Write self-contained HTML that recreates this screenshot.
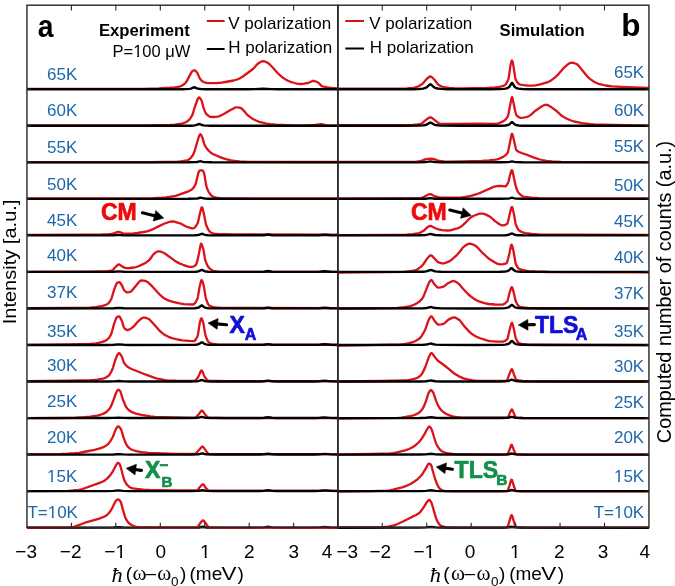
<!DOCTYPE html>
<html><head><meta charset="utf-8"><style>
html,body{margin:0;padding:0;background:#fff;}
body{width:675px;height:586px;overflow:hidden;position:relative;font-family:"Liberation Sans",sans-serif;}
svg{position:absolute;left:0;top:0;}

</style></head><body>
<svg width="675" height="586" viewBox="0 0 675 586">
<rect width="675" height="586" fill="#fff"/>
<path d="M27.0 88.8L143.5 88.8L159.0 88.3L170.0 87.7L174.5 87.3L178.0 86.8L180.5 86.3L182.0 85.6L184.0 84.2L185.5 82.8L186.5 81.6L191.0 73.1L192.0 71.5L193.0 70.8L194.0 70.4L194.5 70.3L195.0 70.4L195.5 70.8L197.0 72.5L197.5 73.3L199.5 77.9L200.0 78.7L202.0 81.0L203.5 82.0L206.5 82.8L209.0 83.1L217.0 83.0L221.5 82.7L225.5 82.0L233.5 80.5L237.0 79.5L239.5 78.5L242.5 76.7L252.0 69.8L253.5 68.4L256.5 65.0L258.0 63.6L261.0 61.8L262.0 61.4L263.0 61.2L264.0 61.3L265.5 61.7L267.5 62.7L268.5 63.3L270.0 64.7L272.5 67.3L277.5 73.0L281.0 76.2L283.0 77.8L285.5 79.4L288.0 80.8L290.5 81.8L294.5 83.0L297.0 83.6L299.0 83.9L301.0 84.0L304.0 83.7L308.0 83.0L312.0 81.2L313.0 81.0L314.0 80.9L316.0 81.5L318.5 82.7L321.5 85.9L322.5 86.4L325.0 87.0L327.5 87.4L331.5 87.9L338.0 88.4" fill="none" stroke="#dc121a" stroke-width="2.3" stroke-linejoin="round"/>
<path d="M338.0 88.7L401.0 88.7L407.0 88.4L413.0 87.8L415.5 87.4L417.0 86.9L419.0 86.0L421.0 84.8L423.0 83.3L426.0 79.7L428.0 77.8L429.5 76.7L430.5 76.5L431.0 76.6L432.0 77.3L434.5 79.8L437.5 83.9L438.5 84.8L441.5 86.4L443.0 86.9L444.5 87.2L449.0 87.8L453.5 88.2L457.5 88.3L462.5 88.3L487.0 87.8L495.0 87.3L499.5 86.8L502.5 86.1L504.5 85.4L505.5 84.5L506.0 83.9L507.5 81.4L508.5 78.9L509.0 76.1L510.5 65.2L511.5 61.2L512.0 60.4L512.5 61.4L513.5 66.3L515.0 76.5L515.5 79.0L516.5 81.1L518.0 83.2L519.0 84.1L519.5 84.4L520.5 84.7L524.0 85.2L527.5 85.5L531.5 85.7L534.0 85.6L536.5 85.2L540.0 84.4L545.5 82.9L548.5 81.8L550.0 81.1L551.5 80.2L555.0 77.4L558.5 74.1L563.5 68.2L567.5 64.6L569.5 63.2L570.5 62.8L571.5 62.6L573.0 62.8L574.5 63.2L576.5 64.0L577.5 64.6L579.0 66.1L582.0 70.0L587.0 76.0L589.0 78.1L591.0 79.6L594.0 81.7L596.5 83.0L598.5 83.8L602.0 84.7L605.5 85.5L609.0 86.0L612.0 86.4L620.5 86.9L649.0 88.0" fill="none" stroke="#dc121a" stroke-width="2.3" stroke-linejoin="round"/>
<path d="M27.0 125.5L147.5 125.5L170.5 124.9L175.0 124.6L179.5 124.0L183.0 123.3L186.0 122.1L187.5 121.2L188.5 120.4L189.5 119.4L190.5 118.1L192.0 115.7L192.5 114.6L195.0 106.5L197.5 99.5L198.0 98.4L198.5 97.7L199.0 97.4L199.5 97.6L200.0 98.0L201.5 100.4L202.0 101.8L203.5 107.9L205.0 111.7L206.0 113.5L207.0 114.7L208.5 115.9L209.5 116.6L210.5 116.9L212.5 117.0L216.0 116.8L217.5 116.6L219.0 116.3L221.0 115.4L225.5 113.1L230.5 110.1L234.5 107.9L236.0 107.3L237.5 107.3L240.5 107.9L241.5 108.4L244.0 110.8L246.5 114.0L247.5 115.0L250.5 117.4L253.0 119.0L256.0 120.5L259.0 121.8L262.5 122.7L266.5 123.6L270.0 124.2L276.0 124.7L293.0 125.4L301.5 125.5L307.0 125.5L315.0 124.9L319.0 124.4L321.0 124.2L322.5 124.4L326.5 125.3L338.0 125.6" fill="none" stroke="#dc121a" stroke-width="2.3" stroke-linejoin="round"/>
<path d="M338.0 125.2L410.0 125.2L413.5 125.0L417.5 124.5L421.0 123.8L422.5 122.9L425.0 120.7L428.5 118.0L429.5 117.5L430.5 117.3L431.5 117.6L432.5 118.3L438.5 123.1L439.5 123.6L440.0 123.7L457.5 123.9L479.5 123.6L493.5 123.9L496.5 123.8L499.5 123.0L503.5 121.1L504.5 120.4L505.5 119.5L506.5 118.3L507.5 116.9L508.0 115.7L508.5 113.8L511.5 98.2L512.0 97.1L512.5 98.1L515.0 110.3L516.0 114.2L516.5 115.2L517.5 116.2L519.0 117.3L520.0 117.8L521.5 117.9L523.5 117.7L526.5 117.0L528.5 116.4L530.5 115.1L535.5 110.7L541.5 106.5L544.0 105.2L545.5 104.8L546.5 104.8L547.5 105.0L548.5 105.4L551.0 106.9L555.5 110.2L561.0 115.2L563.5 116.9L567.5 119.0L571.0 120.5L574.0 121.5L577.5 122.2L582.0 123.1L586.5 123.7L590.5 124.2L594.5 124.5L612.5 125.0L649.0 125.7" fill="none" stroke="#dc121a" stroke-width="2.3" stroke-linejoin="round"/>
<path d="M27.0 162.1L150.0 162.1L164.0 161.9L177.0 161.6L180.5 161.4L183.5 161.0L187.0 160.3L188.5 159.7L189.5 159.0L190.5 158.1L192.5 155.7L193.5 153.9L194.5 151.1L196.5 144.7L198.5 137.7L199.5 135.2L200.0 134.3L200.5 134.2L201.0 134.7L201.5 135.6L202.5 137.9L204.0 143.4L205.0 145.7L206.0 147.4L207.5 149.4L209.0 151.0L210.5 152.4L212.0 153.5L213.5 154.3L220.0 157.1L225.0 158.8L231.0 160.4L235.0 161.0L239.5 161.5L248.5 161.9L338.0 162.0" fill="none" stroke="#dc121a" stroke-width="2.3" stroke-linejoin="round"/>
<path d="M338.0 161.8L415.5 161.8L418.0 161.5L422.0 160.6L426.0 159.2L428.5 158.8L430.5 158.7L432.5 158.9L435.0 159.4L438.0 160.7L439.0 161.0L444.0 161.4L448.5 161.6L463.5 161.4L481.5 160.9L489.0 160.5L495.5 159.7L497.0 159.4L499.0 158.8L501.0 157.9L503.5 156.7L505.5 155.2L506.5 154.2L507.5 152.9L508.0 151.8L508.5 149.8L511.5 134.7L512.0 133.7L512.5 134.5L513.0 136.3L516.0 149.2L516.5 150.2L517.0 150.7L518.5 151.7L521.5 153.0L528.0 155.2L534.0 157.6L540.0 159.5L544.0 160.5L546.5 160.9L552.0 161.5L561.0 161.9L649.0 162.2" fill="none" stroke="#dc121a" stroke-width="2.3" stroke-linejoin="round"/>
<path d="M27.0 198.4L143.5 198.4L152.5 198.2L162.5 197.7L166.0 197.4L169.5 196.9L175.5 195.8L180.0 194.4L189.0 191.1L191.0 190.0L192.5 188.9L194.0 187.1L195.5 184.4L196.0 183.0L198.0 174.2L199.0 171.2L199.5 170.7L201.0 170.3L202.0 170.4L203.0 170.8L203.5 171.6L204.5 175.0L206.0 184.6L207.0 188.2L207.5 189.6L208.5 191.6L210.5 194.7L212.0 196.1L214.0 197.0L216.5 197.6L220.0 198.1L235.5 198.4L338.0 198.4" fill="none" stroke="#dc121a" stroke-width="2.3" stroke-linejoin="round"/>
<path d="M338.0 198.4L420.0 198.4L421.0 198.3L422.0 197.9L425.0 196.2L428.5 194.5L429.5 194.2L430.5 194.1L431.5 194.4L434.5 196.2L438.0 197.2L441.0 197.7L458.0 197.7L461.5 197.5L465.5 196.9L471.0 195.9L476.5 194.2L481.5 192.3L492.5 187.4L494.5 186.6L497.0 186.2L499.5 186.0L501.0 186.0L504.5 186.4L505.5 186.3L506.0 186.0L506.5 185.5L508.0 182.9L508.5 181.6L510.0 175.3L511.0 171.9L511.5 170.5L512.0 170.1L512.5 171.3L515.5 185.2L516.5 188.5L517.5 191.0L518.5 192.8L520.5 194.8L522.5 196.2L523.5 196.7L524.5 197.0L531.5 197.7L539.0 198.1L575.5 198.3L649.0 198.4" fill="none" stroke="#dc121a" stroke-width="2.3" stroke-linejoin="round"/>
<path d="M27.0 234.8L85.5 234.7L100.0 234.6L108.0 234.2L111.5 233.9L113.5 233.5L117.0 232.1L118.5 231.8L119.5 232.0L122.5 233.1L123.5 233.4L129.0 233.7L133.5 233.5L137.5 233.0L143.5 232.0L147.0 231.3L150.0 230.4L152.5 229.4L157.0 227.1L163.5 224.0L169.0 222.0L170.5 221.6L172.0 221.4L173.5 221.5L175.0 221.8L180.0 223.3L181.5 224.0L186.0 226.5L189.5 227.7L192.0 228.3L193.5 228.3L194.5 227.8L195.5 226.7L197.5 223.7L198.0 222.2L199.5 215.3L201.0 209.2L201.5 207.7L202.0 207.2L202.5 208.3L204.0 214.5L206.0 224.5L207.5 228.1L209.0 230.7L210.0 231.9L210.5 232.3L212.0 233.0L214.5 233.8L217.0 234.0L233.0 234.3L338.0 234.7" fill="none" stroke="#dc121a" stroke-width="2.3" stroke-linejoin="round"/>
<path d="M338.0 235.1L398.0 234.8L406.5 234.6L412.5 234.2L417.5 233.5L419.0 233.1L421.0 232.3L424.0 230.6L426.5 228.0L427.5 227.2L429.5 226.1L430.5 225.9L431.5 226.2L433.5 227.3L436.0 228.5L438.5 229.4L442.0 230.1L444.5 230.4L447.5 230.5L450.5 230.3L453.5 229.4L457.5 228.4L460.0 227.3L462.0 225.8L465.5 222.6L469.5 218.5L471.5 216.9L474.5 215.5L477.0 214.5L479.0 213.9L481.0 213.6L482.5 213.6L484.0 213.9L486.0 214.6L489.0 216.1L491.0 217.5L495.0 221.1L499.5 224.3L501.5 225.2L502.5 225.4L503.5 225.3L505.0 224.9L506.5 224.2L507.0 223.9L507.5 223.1L508.0 221.5L511.0 208.7L511.5 207.2L512.0 207.0L512.5 208.1L514.0 214.2L515.5 223.2L516.0 225.0L517.5 228.3L518.5 229.8L519.0 230.4L520.0 231.1L522.5 232.3L525.5 233.1L532.0 234.0L538.5 234.3L575.5 234.6L649.0 234.8" fill="none" stroke="#dc121a" stroke-width="2.3" stroke-linejoin="round"/>
<path d="M27.0 271.9L91.0 271.6L100.5 271.4L107.5 271.1L111.0 270.7L112.0 270.5L112.5 270.3L113.5 269.3L115.0 267.5L117.5 265.1L118.5 264.5L119.0 264.4L120.0 264.8L122.0 266.4L124.5 267.6L126.0 268.1L129.5 268.0L134.5 267.5L136.5 267.0L139.0 266.0L143.5 263.9L146.5 262.2L148.5 260.7L149.5 259.8L150.5 258.5L153.0 254.8L154.0 253.7L155.5 252.6L157.0 251.8L158.0 251.4L159.0 251.3L161.0 251.7L163.5 252.7L164.5 253.2L175.0 260.9L177.0 262.1L180.0 263.6L183.0 264.8L187.5 266.3L190.0 266.8L192.0 266.9L193.5 266.5L195.0 265.6L196.0 264.8L196.5 263.8L197.5 260.1L199.0 253.4L200.5 245.1L201.0 243.7L201.5 244.0L202.0 245.0L203.0 248.3L203.5 250.1L205.0 258.7L205.5 260.9L207.0 264.6L208.0 266.5L209.5 268.3L211.5 269.9L212.5 270.5L213.5 270.8L218.5 271.6L223.5 271.9L338.0 271.9" fill="none" stroke="#dc121a" stroke-width="2.3" stroke-linejoin="round"/>
<path d="M338.0 272.6L382.5 272.2L404.5 271.9L409.0 271.5L414.0 270.7L416.0 270.1L417.5 269.3L419.5 267.9L422.0 265.8L423.5 264.0L427.0 258.7L429.5 255.9L430.5 255.3L431.0 255.3L432.0 255.9L437.5 261.8L438.5 262.4L439.5 262.7L442.0 263.3L444.0 263.3L446.0 262.7L449.0 261.4L450.5 260.5L452.0 259.4L456.5 255.4L460.0 251.5L463.0 247.4L465.0 245.8L467.0 244.6L468.5 243.9L470.0 243.7L471.0 243.8L472.5 244.3L475.5 245.8L476.5 246.5L478.0 247.9L482.5 252.9L487.5 257.5L490.5 259.8L495.0 262.5L497.0 263.6L499.0 264.2L500.5 264.4L503.0 264.2L505.5 263.7L506.5 263.3L507.0 262.4L508.0 259.1L509.5 253.0L511.0 245.5L511.5 244.6L512.0 245.3L512.5 246.9L513.5 251.2L515.5 262.8L516.0 264.3L516.5 265.4L518.0 267.8L519.0 268.7L520.0 269.2L522.0 269.9L525.5 270.7L529.0 271.1L535.0 271.5L548.5 272.0L649.0 272.3" fill="none" stroke="#dc121a" stroke-width="2.3" stroke-linejoin="round"/>
<path d="M27.0 308.1L69.0 307.9L90.0 307.6L95.5 307.1L102.5 305.9L105.0 305.2L107.5 304.0L108.5 303.2L110.0 301.3L111.5 298.5L113.5 291.7L115.5 285.9L116.5 283.7L117.0 283.1L117.5 282.8L119.0 282.1L119.5 282.1L120.0 282.5L122.0 285.5L123.5 289.0L124.0 290.0L124.5 290.6L125.5 291.5L126.5 292.2L127.0 292.4L128.0 292.4L129.0 292.1L130.5 291.6L131.5 291.1L132.0 290.6L139.0 282.0L140.5 280.7L141.5 280.4L143.5 280.6L146.0 281.2L147.0 281.7L148.0 282.4L152.5 286.7L158.0 292.8L160.0 294.8L163.5 297.9L164.5 298.5L166.5 299.6L169.0 300.6L172.0 301.6L179.5 303.4L184.0 304.1L189.0 304.4L193.0 304.5L193.5 304.4L194.0 304.1L195.0 303.1L196.0 301.6L197.5 298.4L198.0 296.3L199.5 287.2L201.0 281.0L201.5 280.1L202.0 280.4L202.5 281.5L203.5 284.9L204.0 287.1L205.5 296.5L206.0 298.7L207.5 302.9L208.5 304.8L209.0 305.4L211.0 306.3L213.5 307.1L216.0 307.4L220.0 307.6L236.0 308.0L338.0 308.1" fill="none" stroke="#dc121a" stroke-width="2.3" stroke-linejoin="round"/>
<path d="M338.0 308.5L377.5 308.1L397.5 307.8L401.0 307.5L404.5 307.1L409.0 306.4L411.0 305.9L414.0 304.7L417.5 302.9L420.0 301.0L422.0 298.9L423.0 297.4L424.0 295.2L429.0 282.6L429.5 281.7L430.5 280.6L431.0 280.2L431.5 280.1L432.0 280.5L432.5 281.2L434.0 283.8L436.0 286.0L437.5 287.3L438.5 287.6L440.5 287.4L443.5 286.6L445.0 285.7L448.0 283.2L451.5 281.5L452.5 281.1L453.5 281.0L455.0 281.4L456.5 282.2L459.0 284.1L463.0 288.7L468.5 294.5L470.5 296.2L473.5 298.4L476.5 300.2L479.0 301.4L484.5 303.2L488.5 304.0L495.0 304.5L502.0 304.6L503.5 304.3L505.0 303.4L507.0 301.6L507.5 300.7L508.0 299.1L509.5 292.9L510.5 289.8L511.0 288.3L511.5 287.3L512.0 287.2L512.5 288.3L513.5 291.6L515.5 300.5L516.0 301.8L517.0 303.8L518.0 305.4L519.0 306.4L520.0 306.8L523.5 307.5L528.0 308.0L533.0 308.1L649.0 308.5" fill="none" stroke="#dc121a" stroke-width="2.3" stroke-linejoin="round"/>
<path d="M27.0 344.8L69.0 344.4L90.0 343.8L96.0 343.3L99.5 342.6L102.5 341.9L105.0 340.9L107.0 339.7L108.5 338.4L109.5 337.1L110.5 335.4L111.5 333.2L114.0 324.1L116.0 318.6L116.5 317.6L117.0 317.1L118.0 316.6L119.0 316.4L119.5 316.6L120.0 317.2L121.5 320.1L122.0 321.3L123.5 326.4L124.0 327.7L124.5 328.4L125.0 328.8L126.5 329.8L127.5 330.0L128.5 329.8L129.5 329.4L131.0 328.6L133.5 326.7L137.5 321.9L141.0 318.8L142.0 318.1L143.0 317.7L144.0 317.6L145.0 317.7L147.5 318.5L149.0 319.2L149.5 319.5L152.5 322.7L159.0 330.1L162.0 332.9L164.5 334.7L168.5 336.8L172.0 338.1L177.5 339.5L182.5 340.4L189.0 340.9L193.5 341.1L194.0 341.1L194.5 340.9L195.5 339.9L197.0 337.3L197.5 336.2L198.0 334.6L199.5 324.3L200.5 320.1L201.0 318.7L201.5 318.3L202.0 319.0L202.5 320.3L203.5 323.9L205.0 333.0L205.5 335.4L207.0 339.4L208.0 341.3L209.0 342.5L211.0 343.3L213.5 344.0L217.0 344.3L234.5 344.6L338.0 344.7" fill="none" stroke="#dc121a" stroke-width="2.3" stroke-linejoin="round"/>
<path d="M338.0 345.6L379.5 344.9L399.5 344.3L403.0 344.1L405.5 343.8L409.0 343.1L412.5 342.2L415.5 341.0L418.0 339.6L420.0 338.0L421.5 336.2L423.5 332.9L425.5 329.0L428.5 320.2L429.5 318.4L430.5 316.9L431.0 316.5L431.5 316.4L432.0 316.7L432.5 317.4L434.0 320.0L436.5 323.2L437.5 324.2L438.0 324.5L438.5 324.6L441.0 324.4L443.5 323.9L445.0 322.9L447.5 320.4L448.5 319.6L452.0 317.9L453.0 317.6L454.0 317.4L455.0 317.5L456.0 317.9L459.0 319.7L460.0 320.6L464.5 326.5L469.0 331.4L470.5 332.9L472.0 334.1L475.5 336.2L479.5 338.0L486.0 340.2L488.5 340.8L490.5 341.1L497.0 341.6L502.5 341.7L503.5 341.5L504.5 341.1L505.5 340.6L507.0 339.5L507.5 338.6L508.0 336.9L509.5 330.2L511.0 324.6L511.5 323.2L512.0 322.8L512.5 323.7L513.0 325.5L514.0 329.6L515.5 337.3L516.0 338.8L517.5 341.6L518.5 342.8L519.5 343.4L522.0 343.9L527.5 344.5L535.5 344.7L572.5 344.9L649.0 345.1" fill="none" stroke="#dc121a" stroke-width="2.3" stroke-linejoin="round"/>
<path d="M27.0 381.1L69.0 380.7L90.0 380.2L94.0 380.0L97.5 379.6L101.5 378.9L104.0 378.3L106.0 377.5L107.5 376.5L109.0 375.3L110.0 374.0L111.5 371.2L113.0 367.6L115.0 360.8L117.0 355.8L118.0 353.9L118.5 353.3L119.0 353.1L119.5 353.3L120.0 353.8L121.5 356.1L122.0 357.1L123.5 361.5L124.0 362.8L124.5 363.6L126.5 365.8L128.0 367.0L129.5 367.9L131.5 369.0L133.5 369.8L146.0 374.7L154.0 377.6L156.5 378.4L159.0 379.0L165.0 380.1L167.5 380.3L176.0 380.6L194.5 380.8L195.0 380.6L196.0 379.8L198.0 377.2L199.0 375.3L200.5 371.7L201.0 370.9L201.5 370.5L202.0 370.7L202.5 371.5L204.0 375.4L204.5 376.6L205.0 377.3L207.0 379.9L208.0 380.7L208.5 380.8L217.0 381.0L227.0 381.1L338.0 381.1" fill="none" stroke="#dc121a" stroke-width="2.3" stroke-linejoin="round"/>
<path d="M338.0 381.5L382.5 381.0L404.5 380.5L407.0 380.4L409.5 380.0L415.0 378.7L417.0 378.0L419.0 376.8L421.0 375.1L422.0 373.8L423.5 370.9L425.5 366.5L428.5 357.8L430.5 353.8L431.0 353.3L431.5 353.1L432.0 353.4L432.5 353.9L436.0 358.6L437.5 360.3L439.0 361.5L444.5 365.5L449.0 369.1L453.0 372.5L455.0 374.0L458.5 376.1L463.5 378.4L467.5 379.4L473.0 380.3L476.0 380.6L479.0 380.8L506.5 380.7L507.0 380.2L507.5 379.2L511.0 370.1L511.5 369.3L512.0 369.2L512.5 370.1L514.0 374.6L515.5 378.4L516.0 379.4L516.5 380.0L519.0 380.5L522.5 380.9L528.0 381.2L538.0 381.3L649.0 381.5" fill="none" stroke="#dc121a" stroke-width="2.3" stroke-linejoin="round"/>
<path d="M27.0 418.2L61.5 418.0L76.0 417.6L84.5 417.1L90.5 416.6L97.0 415.6L100.5 414.8L103.5 413.6L105.5 412.6L107.5 411.0L109.5 408.8L110.5 407.2L111.5 405.0L113.5 400.0L116.0 393.0L117.5 390.2L118.0 389.7L118.5 389.7L119.0 390.0L120.0 390.9L120.5 391.7L123.0 399.8L125.5 405.9L126.5 407.6L127.5 408.8L129.0 410.2L130.5 411.3L132.0 412.2L136.0 413.6L141.5 414.9L150.5 416.4L155.0 416.9L163.0 417.2L181.5 417.7L194.5 417.8L195.5 417.5L196.5 416.7L199.0 414.0L201.0 411.2L201.5 410.7L202.0 410.6L202.5 410.9L203.0 411.5L204.5 413.7L207.0 416.7L208.0 417.5L208.5 417.6L217.0 417.9L227.0 418.1L338.0 418.1" fill="none" stroke="#dc121a" stroke-width="2.3" stroke-linejoin="round"/>
<path d="M338.0 418.6L377.5 418.2L397.5 417.8L401.0 417.6L405.5 417.0L410.0 416.2L413.0 415.5L416.5 414.1L418.5 413.0L420.5 411.3L422.5 409.0L424.0 406.1L426.0 401.0L428.5 393.2L430.0 390.7L430.5 390.2L431.0 390.1L431.5 390.4L432.0 390.9L433.0 392.2L434.0 394.5L436.0 400.6L438.0 405.2L439.5 408.0L441.5 410.4L443.0 411.7L444.5 412.8L446.0 413.7L448.5 414.9L450.5 415.7L452.5 416.3L458.0 417.4L460.5 417.5L477.5 417.7L507.5 417.6L508.0 417.5L508.5 416.7L509.5 413.9L511.0 410.3L511.5 409.6L512.0 409.5L512.5 410.1L515.5 417.3L516.0 417.6L518.0 417.8L523.0 418.0L529.5 418.1L649.0 418.2" fill="none" stroke="#dc121a" stroke-width="2.3" stroke-linejoin="round"/>
<path d="M27.0 454.1L61.0 453.9L67.5 453.7L75.0 453.2L79.0 452.8L83.5 452.0L94.5 449.8L99.0 448.7L102.0 447.7L104.5 446.6L107.0 445.0L108.5 443.7L110.5 440.9L112.5 437.5L113.5 435.3L115.0 431.2L116.0 428.9L117.0 427.4L117.5 426.8L118.0 426.4L118.5 426.4L119.5 427.2L121.0 429.2L121.5 430.5L123.5 437.4L125.0 441.4L126.5 444.7L127.0 445.6L128.0 446.8L130.0 448.6L131.0 449.3L132.5 450.0L136.5 451.2L141.5 452.1L148.5 452.9L155.0 453.2L176.0 453.8L194.5 454.0L195.0 453.9L196.0 453.2L199.5 449.5L201.5 447.1L202.0 446.7L202.5 446.6L203.0 446.8L203.5 447.3L207.5 452.9L208.5 453.8L209.0 453.9L217.0 454.1L227.0 454.2L338.0 454.2" fill="none" stroke="#dc121a" stroke-width="2.3" stroke-linejoin="round"/>
<path d="M338.0 454.5L372.5 454.0L390.0 453.5L393.0 453.2L396.0 452.7L405.0 450.4L409.0 449.0L412.5 447.3L415.5 445.2L418.5 442.5L420.0 440.9L422.0 438.2L424.5 434.1L427.0 429.3L428.5 427.1L429.0 426.6L429.5 426.7L430.0 427.0L431.0 428.3L431.5 429.1L432.0 430.4L434.0 437.0L436.0 443.1L437.0 445.4L439.0 448.5L440.5 450.2L441.5 451.0L442.5 451.5L445.5 452.8L447.0 453.2L449.0 453.5L454.5 454.1L459.5 454.3L507.0 454.5L507.5 454.1L508.0 453.3L509.5 449.7L511.0 445.5L511.5 444.8L512.0 445.1L513.5 449.2L515.0 452.7L515.5 453.6L516.0 454.2L516.5 454.3L522.0 454.5L529.0 454.6L649.0 454.7" fill="none" stroke="#dc121a" stroke-width="2.3" stroke-linejoin="round"/>
<path d="M27.0 491.2L68.5 490.8L73.0 490.5L78.0 490.0L80.0 489.7L82.5 489.0L101.0 482.3L103.5 481.2L105.0 480.3L106.5 479.1L108.5 477.2L111.0 474.2L113.0 471.1L116.0 465.2L117.5 463.1L118.0 462.9L118.5 463.1L119.5 463.9L120.0 464.8L121.5 469.8L122.5 474.0L124.0 479.3L125.0 481.7L126.5 484.1L128.5 486.2L129.5 487.0L130.5 487.6L133.0 488.3L137.0 488.9L143.5 489.6L149.0 489.9L172.5 490.3L197.0 490.4L197.5 490.2L198.0 489.7L199.5 487.4L201.5 485.2L202.5 484.5L203.0 484.4L203.5 484.6L204.0 485.2L205.5 487.6L207.0 489.2L208.0 490.1L208.5 490.3L209.0 490.4L217.0 490.6L227.0 490.7L338.0 490.7" fill="none" stroke="#dc121a" stroke-width="2.3" stroke-linejoin="round"/>
<path d="M338.0 491.5L371.0 491.1L387.5 490.6L390.0 490.3L393.0 489.7L402.0 487.4L406.5 485.8L410.5 484.0L414.5 481.5L418.0 478.8L420.5 476.3L422.5 473.9L426.0 468.1L428.0 464.3L428.5 463.8L429.0 463.6L429.5 463.7L430.5 464.3L431.0 464.9L431.5 466.0L433.0 471.7L435.5 480.2L437.0 484.0L438.5 487.0L439.5 488.4L440.5 489.2L443.0 490.5L445.0 491.1L457.0 491.3L507.0 491.3L507.5 490.9L508.0 489.9L509.5 485.6L511.0 480.5L511.5 479.6L512.0 480.0L513.5 485.0L515.0 489.2L515.5 490.4L516.0 491.0L516.5 491.1L522.0 491.3L528.5 491.4L649.0 491.4" fill="none" stroke="#dc121a" stroke-width="2.3" stroke-linejoin="round"/>
<path d="M338.0 527.5L368.5 527.3L383.0 527.1L388.0 526.6L394.0 525.4L397.0 524.2L403.5 521.3L411.0 517.4L416.0 515.0L418.5 513.5L420.0 512.3L421.0 511.1L424.0 506.9L427.0 501.9L428.5 500.2L429.0 499.9L429.5 500.0L430.0 500.4L431.5 502.9L432.5 506.0L436.0 518.1L437.0 520.6L438.0 522.3L439.5 524.5L441.0 525.8L443.5 526.7L446.5 527.3L449.0 527.5L458.5 527.6L507.0 527.5L507.5 527.0L508.0 525.8L511.0 515.9L511.5 515.1L512.0 515.5L512.5 516.8L513.5 520.4L515.5 526.4L516.0 527.1L516.5 527.2L522.0 527.5L528.5 527.6L649.0 527.6" fill="none" stroke="#dc121a" stroke-width="2.3" stroke-linejoin="round"/>
<path d="M27.0 89.3L182.0 89.2L186.5 89.1L189.5 88.9L191.0 88.6L193.5 87.5L194.5 87.3L197.0 88.4L198.5 88.8L201.5 89.1L206.0 89.2L247.5 89.2L255.0 89.1L263.0 88.7L271.5 89.1L279.0 89.2L338.0 89.3" fill="none" stroke="#000" stroke-width="2.4"/>
<path d="M338.0 89.3L402.0 89.2L413.0 89.2L419.0 89.0L423.0 88.6L425.5 87.9L426.5 87.4L427.5 86.7L429.5 84.7L430.0 84.4L430.5 84.3L431.0 84.5L431.5 84.9L433.5 86.9L435.0 87.8L437.5 88.5L441.0 88.9L448.0 89.2L461.5 89.2L489.0 89.2L500.5 89.1L503.5 88.9L505.5 88.6L507.0 88.3L508.0 87.8L509.0 87.1L509.5 86.5L511.5 83.3L512.0 83.0L512.5 83.3L514.5 86.5L515.0 87.1L516.0 87.8L517.0 88.3L518.5 88.6L522.5 89.0L529.5 89.2L543.0 89.3L649.0 89.3" fill="none" stroke="#000" stroke-width="2.4"/>
<path d="M27.0 125.8L186.5 125.8L191.5 125.7L194.5 125.4L196.0 125.2L198.5 124.2L199.5 124.0L202.0 125.0L203.5 125.4L206.5 125.6L211.0 125.8L338.0 125.8" fill="none" stroke="#000" stroke-width="2.4"/>
<path d="M338.0 125.8L402.0 125.8L419.0 125.6L423.0 125.4L425.5 125.0L427.5 124.2L429.5 122.9L430.5 122.6L431.5 123.0L433.5 124.3L435.0 124.9L437.5 125.3L441.0 125.6L460.5 125.8L500.5 125.7L505.5 125.5L508.0 125.0L509.5 124.3L511.5 122.4L512.0 122.2L512.5 122.4L514.5 124.3L516.0 125.0L518.5 125.5L522.5 125.7L543.0 125.8L649.0 125.8" fill="none" stroke="#000" stroke-width="2.4"/>
<path d="M27.0 162.4L187.5 162.3L195.5 162.1L197.0 162.0L199.5 161.4L200.5 161.3L203.0 161.9L204.5 162.1L212.0 162.3L338.0 162.4" fill="none" stroke="#000" stroke-width="2.4"/>
<path d="M338.0 162.4L419.0 162.3L425.5 162.1L430.5 161.4L435.0 162.1L441.0 162.3L500.5 162.3L508.0 162.1L509.5 161.9L512.0 161.4L514.5 161.9L516.0 162.1L522.5 162.3L649.0 162.4" fill="none" stroke="#000" stroke-width="2.4"/>
<path d="M27.0 198.9L188.0 198.8L196.0 198.6L197.5 198.5L200.0 197.8L201.0 197.7L203.5 198.3L205.0 198.6L208.0 198.8L212.5 198.8L338.0 198.9" fill="none" stroke="#000" stroke-width="2.4"/>
<path d="M338.0 198.9L419.0 198.8L425.5 198.7L430.5 198.1L435.0 198.7L441.0 198.8L500.5 198.8L508.0 198.6L509.5 198.4L512.0 197.7L514.5 198.4L516.0 198.6L522.5 198.8L649.0 198.9" fill="none" stroke="#000" stroke-width="2.4"/>
<path d="M27.0 235.4L107.0 235.4L113.5 235.3L118.5 234.9L123.0 235.3L129.0 235.4L190.0 235.4L195.0 235.3L197.5 235.1L199.0 234.8L201.5 233.9L202.0 233.8L204.5 234.7L206.0 235.1L208.5 235.3L212.5 235.4L259.5 235.3L264.0 235.2L268.0 234.5L272.0 235.2L277.0 235.4L314.5 235.3L319.5 235.2L324.5 234.7L330.5 235.2L338.0 235.4" fill="none" stroke="#000" stroke-width="2.4"/>
<path d="M338.0 235.4L419.0 235.3L425.5 235.0L427.5 234.7L429.5 234.1L430.5 234.0L435.0 235.0L441.0 235.3L500.0 235.4L505.0 235.2L507.5 235.0L509.0 234.7L511.0 233.7L511.5 233.6L512.0 233.5L514.5 234.7L516.0 235.0L518.5 235.2L522.5 235.3L649.0 235.4" fill="none" stroke="#000" stroke-width="2.4"/>
<path d="M27.0 271.9L107.5 271.9L114.0 271.8L119.0 271.4L124.0 271.8L130.0 271.9L190.0 271.9L195.0 271.8L197.5 271.5L199.0 271.2L201.5 270.0L202.0 270.0L202.5 270.1L204.5 271.1L206.0 271.5L208.5 271.7L212.5 271.9L259.5 271.9L264.0 271.7L268.0 271.0L272.0 271.7L277.0 271.9L314.5 271.9L319.5 271.7L324.5 271.2L330.5 271.8L338.0 271.9" fill="none" stroke="#000" stroke-width="2.4"/>
<path d="M338.0 271.9L402.5 271.9L419.5 271.8L423.5 271.7L426.0 271.4L427.5 271.0L430.0 270.1L431.0 270.0L432.0 270.2L434.0 271.0L435.5 271.4L437.5 271.6L441.0 271.8L465.5 271.9L500.0 271.8L505.0 271.6L507.5 271.1L509.0 270.3L511.0 268.4L511.5 268.2L512.0 268.4L514.0 270.3L515.5 271.1L518.0 271.6L522.0 271.8L542.5 271.9L649.0 271.9" fill="none" stroke="#000" stroke-width="2.4"/>
<path d="M27.0 308.5L107.5 308.4L114.0 308.3L119.0 307.9L124.0 308.3L130.0 308.4L190.0 308.4L195.0 308.2L197.5 307.8L199.0 307.3L201.0 305.8L201.5 305.5L202.0 305.5L202.5 305.8L203.5 306.7L204.5 307.3L206.0 307.9L208.5 308.2L212.5 308.4L259.0 308.4L264.0 308.2L268.0 307.6L272.0 308.2L277.5 308.4L314.5 308.4L319.5 308.3L324.5 307.8L330.5 308.3L338.0 308.4" fill="none" stroke="#000" stroke-width="2.4"/>
<path d="M338.0 308.5L419.5 308.4L423.5 308.3L426.0 308.1L427.5 307.8L430.0 307.1L431.0 307.0L434.0 307.8L435.5 308.0L441.5 308.4L472.5 308.5L500.0 308.4L505.0 308.1L507.5 307.7L509.0 307.1L510.0 306.3L511.0 305.3L511.5 304.9L512.0 304.9L512.5 305.2L514.5 307.0L516.0 307.7L518.5 308.1L522.5 308.3L543.0 308.5L649.0 308.5" fill="none" stroke="#000" stroke-width="2.4"/>
<path d="M27.0 345.0L107.5 345.0L114.0 344.8L119.0 344.4L124.0 344.8L130.0 345.0L190.0 344.9L195.0 344.8L197.5 344.5L199.0 344.0L201.5 342.4L202.0 342.3L202.5 342.5L204.5 343.9L206.0 344.4L208.5 344.7L212.5 344.9L259.0 344.9L264.0 344.8L268.0 344.1L272.0 344.8L277.0 344.9L314.5 344.9L319.5 344.8L324.5 344.3L330.5 344.8L338.0 345.0" fill="none" stroke="#000" stroke-width="2.4"/>
<path d="M338.0 345.0L419.5 344.9L423.5 344.8L426.0 344.6L427.5 344.3L430.0 343.6L431.0 343.5L434.0 344.3L435.5 344.6L441.5 344.9L476.0 345.0L500.5 344.9L505.5 344.6L508.0 344.0L509.5 343.2L511.5 341.1L512.0 341.0L512.5 341.3L514.5 343.3L516.0 344.1L518.5 344.6L522.5 344.8L543.0 345.0L649.0 345.0" fill="none" stroke="#000" stroke-width="2.4"/>
<path d="M27.0 381.5L107.5 381.5L114.0 381.4L119.0 381.0L123.5 381.4L129.5 381.5L190.0 381.5L195.0 381.4L197.5 381.2L199.0 380.9L201.5 380.0L202.5 380.1L204.5 380.9L206.0 381.2L212.5 381.5L259.5 381.5L264.0 381.3L268.0 380.6L272.0 381.3L277.0 381.5L314.5 381.5L319.5 381.3L324.5 380.8L330.5 381.4L338.0 381.5" fill="none" stroke="#000" stroke-width="2.4"/>
<path d="M338.0 381.5L419.5 381.5L426.0 381.3L430.0 380.6L431.0 380.5L435.5 381.2L441.0 381.5L500.0 381.5L505.0 381.3L507.5 381.1L509.0 380.8L511.0 379.8L511.5 379.6L512.0 379.6L514.5 380.7L516.0 381.1L518.5 381.3L522.5 381.5L649.0 381.5" fill="none" stroke="#000" stroke-width="2.4"/>
<path d="M27.0 418.1L107.0 418.0L113.5 417.9L118.5 417.6L123.0 417.9L129.0 418.0L190.0 418.0L197.5 417.8L199.0 417.6L201.5 416.9L202.0 416.9L204.5 417.6L206.0 417.8L212.5 418.0L259.5 418.0L264.0 417.8L268.0 417.2L272.0 417.8L277.0 418.0L314.5 418.0L319.5 417.8L324.5 417.4L330.5 417.9L338.0 418.0" fill="none" stroke="#000" stroke-width="2.4"/>
<path d="M338.0 418.1L419.5 418.0L426.0 417.8L431.0 417.3L435.5 417.8L441.0 418.0L500.0 418.0L507.5 417.8L509.0 417.6L511.0 417.0L512.0 416.9L514.5 417.6L516.0 417.8L522.5 418.0L649.0 418.1" fill="none" stroke="#000" stroke-width="2.4"/>
<path d="M27.0 454.6L107.0 454.6L113.5 454.5L118.5 454.1L123.0 454.4L129.0 454.6L190.5 454.6L198.0 454.3L199.5 454.1L202.0 453.4L203.0 453.5L205.0 454.1L206.5 454.3L213.0 454.5L259.5 454.5L264.0 454.3L268.0 453.7L272.0 454.3L277.0 454.5L314.5 454.5L319.5 454.4L324.5 453.9L330.5 454.4L338.0 454.6" fill="none" stroke="#000" stroke-width="2.4"/>
<path d="M338.0 454.6L419.5 454.5L426.0 454.4L431.0 453.8L435.5 454.4L441.0 454.5L500.0 454.6L507.5 454.4L509.0 454.2L511.5 453.6L515.5 454.4L522.5 454.6L649.0 454.6" fill="none" stroke="#000" stroke-width="2.4"/>
<path d="M27.0 491.1L107.0 491.1L113.5 490.9L118.5 490.4L123.0 490.9L129.0 491.1L191.0 491.1L198.5 490.9L202.5 490.2L206.5 490.9L213.5 491.1L259.5 491.1L264.0 490.9L268.0 490.2L272.0 490.9L277.0 491.1L314.5 491.1L319.5 490.9L324.5 490.4L330.5 490.9L338.0 491.1" fill="none" stroke="#000" stroke-width="2.4"/>
<path d="M338.0 491.1L419.5 491.1L426.0 490.9L431.0 490.3L435.5 490.9L441.0 491.1L500.0 491.1L507.5 490.9L509.0 490.7L511.5 490.1L515.5 490.9L522.5 491.1L649.0 491.1" fill="none" stroke="#000" stroke-width="2.4"/>
<path d="M27.0 527.7L107.0 527.6L113.5 527.5L118.5 527.2L123.0 527.5L129.0 527.6L191.0 527.6L198.5 527.5L203.0 526.8L205.5 527.3L207.0 527.5L213.5 527.6L259.5 527.6L264.0 527.4L268.0 526.8L272.0 527.4L277.0 527.6L314.5 527.6L319.5 527.4L324.5 527.0L330.5 527.5L338.0 527.6" fill="none" stroke="#000" stroke-width="2.4"/>
<path d="M338.0 527.7L419.5 527.6L426.0 527.4L431.0 526.9L435.5 527.4L441.0 527.6L500.0 527.6L507.5 527.4L509.0 527.2L511.5 526.7L515.5 527.4L522.5 527.6L649.0 527.7" fill="none" stroke="#000" stroke-width="2.4"/>
<path d="M27.0 527.6L71.0 527.2L72.5 527.1L74.5 526.7L80.0 524.7L86.0 522.3L98.5 518.8L103.0 517.2L105.5 516.0L106.5 515.3L108.0 514.0L110.5 511.0L112.0 508.4L115.5 501.3L116.0 500.6L117.0 499.9L118.0 499.5L118.5 499.5L119.0 499.7L119.5 500.2L120.5 501.5L121.0 502.6L123.0 510.0L125.0 516.7L126.0 519.1L127.0 520.7L128.5 522.7L130.0 524.1L132.0 525.2L134.0 526.1L135.5 526.6L137.0 526.8L162.5 527.3L197.0 527.4L197.5 527.2L198.0 526.7L199.5 524.2L201.5 521.5L202.5 520.5L203.0 520.4L203.5 520.6L204.0 521.0L206.0 523.6L208.0 526.6L208.5 527.1L209.0 527.2L217.0 527.5L227.0 527.6L338.0 527.6" fill="none" stroke="#dc121a" stroke-width="2.3" stroke-linejoin="round"/>
<g fill="none" stroke="#262626" stroke-width="1.4">
<rect x="26.95" y="5.2" width="311.05" height="522.30"/>
<rect x="337.80" y="5.2" width="311.15" height="522.30"/>
</g>
<path d="M71.40 5.2V10.4M71.40 527.5V522.8M382.25 5.2V10.4M382.25 527.5V522.8M115.85 5.2V10.4M115.85 527.5V522.8M426.70 5.2V10.4M426.70 527.5V522.8M160.30 5.2V10.4M160.30 527.5V522.8M471.15 5.2V10.4M471.15 527.5V522.8M204.75 5.2V10.4M204.75 527.5V522.8M515.60 5.2V10.4M515.60 527.5V522.8M249.20 5.2V10.4M249.20 527.5V522.8M560.05 5.2V10.4M560.05 527.5V522.8M293.65 5.2V10.4M293.65 527.5V522.8M604.50 5.2V10.4M604.50 527.5V522.8M26.95 89.10H30.95M648.95 89.10H644.95M26.95 125.63H30.95M648.95 125.63H644.95M26.95 162.16H30.95M648.95 162.16H644.95M26.95 198.69H30.95M648.95 198.69H644.95M26.95 235.22H30.95M648.95 235.22H644.95M26.95 271.75H30.95M648.95 271.75H644.95M26.95 308.28H30.95M648.95 308.28H644.95M26.95 344.81H30.95M648.95 344.81H644.95M26.95 381.34H30.95M648.95 381.34H644.95M26.95 417.87H30.95M648.95 417.87H644.95M26.95 454.40H30.95M648.95 454.40H644.95M26.95 490.93H30.95M648.95 490.93H644.95" stroke="#262626" stroke-width="1.1" fill="none"/>
<path d="M142.4 212.8L155.5 216.0" stroke="#000" stroke-width="3.1" stroke-linecap="round"/><path d="M163.7 218.1L153.2 221.0L155.8 210.6Z" fill="#000" stroke="#000" stroke-width="0.6" stroke-linejoin="round"/>
<path d="M449.8 210.1L462.9 213.3" stroke="#000" stroke-width="3.1" stroke-linecap="round"/><path d="M471.1 215.4L460.6 218.3L463.2 207.9Z" fill="#000" stroke="#000" stroke-width="0.6" stroke-linejoin="round"/>
<path d="M226.6 324.8L216.6 323.9" stroke="#000" stroke-width="3.1" stroke-linecap="round"/><path d="M208.1 323.1L218.1 318.6L217.1 329.3Z" fill="#000" stroke="#000" stroke-width="0.6" stroke-linejoin="round"/>
<path d="M534.4 324.6L526.9 324.8" stroke="#000" stroke-width="3.1" stroke-linecap="round"/><path d="M518.4 325.0L527.8 319.4L528.0 330.2Z" fill="#000" stroke="#000" stroke-width="0.6" stroke-linejoin="round"/>
<path d="M141.5 470.4L134.7 469.5" stroke="#000" stroke-width="3.1" stroke-linecap="round"/><path d="M126.3 468.3L136.4 464.3L135.0 474.9Z" fill="#000" stroke="#000" stroke-width="0.6" stroke-linejoin="round"/>
<path d="M452.4 469.2L444.7 468.1" stroke="#000" stroke-width="3.1" stroke-linecap="round"/><path d="M436.3 466.9L446.5 462.9L444.9 473.6Z" fill="#000" stroke="#000" stroke-width="0.6" stroke-linejoin="round"/>
</svg>
<svg width="675" height="586" viewBox="0 0 675 586" style="position:absolute;left:0;top:0;will-change:transform" font-family="Liberation Sans, sans-serif">
<g fill="#1e67aa" font-size="17">
<text x="47.0" y="79.8">65K</text>
<text x="47.0" y="116.3">60K</text>
<text x="47.0" y="152.6">55K</text>
<text x="47.0" y="190.3">50K</text>
<text x="47.0" y="226.3">45K</text>
<text x="47.0" y="261.3">40K</text>
<text x="47.0" y="297.9">37K</text>
<text x="47.0" y="336.6">35K</text>
<text x="47.0" y="371.2">30K</text>
<text x="47.0" y="407.1">25K</text>
<text x="47.0" y="443">20K</text>
<text x="47.0" y="481.8">15K</text>
<text x="27.4" y="518">T=10K</text>
</g>
<g fill="#1e67aa" font-size="17" text-anchor="end">
<text x="644.2" y="77.8">65K</text>
<text x="644.2" y="116.1">60K</text>
<text x="644.2" y="152">55K</text>
<text x="644.2" y="190.6">50K</text>
<text x="644.2" y="226.7">45K</text>
<text x="644.2" y="262.9">40K</text>
<text x="644.2" y="299">37K</text>
<text x="644.2" y="337.4">35K</text>
<text x="644.2" y="371.6">30K</text>
<text x="644.2" y="407.5">25K</text>
<text x="644.2" y="443.4">20K</text>
<text x="644.2" y="481.6">15K</text>
<text x="644.2" y="517.8">T=10K</text>
</g>
<g font-weight="bold" fill="#000">
<text transform="translate(37.8 37.4) scale(0.9 1)" font-size="31.5">a</text>
<text x="621.3" y="35.5" font-size="31.5">b</text>
<text x="189.8" y="35.8" font-size="16.7" text-anchor="end">Experiment</text>
<text x="584.8" y="36.2" font-size="16.7" text-anchor="end">Simulation</text>
</g>
<g fill="#000" font-size="17">
<text x="190.4" y="56.6" text-anchor="end" font-size="16.5">P=100 μW</text>
<text x="228.2" y="28.9">V polarization</text>
<text x="228.2" y="53.4">H polarization</text>
<text x="369.3" y="28.9">V polarization</text>
<text x="369.8" y="53.4">H polarization</text>
</g>
<g stroke-width="2">
<path d="M206.8 21.1H224.6M345.3 21.1H364" stroke="#da1119"/>
<path d="M206.8 49H224.6M345.3 48.5H364" stroke="#000"/>
</g>
<g fill="#000" font-size="19" text-anchor="middle">
<text x="26.2" y="557.6">−3</text>
<text x="70.7" y="557.6">−2</text>
<text x="115.2" y="557.6">−1</text>
<text x="160.9" y="557.6">0</text>
<text x="205.4" y="557.6">1</text>
<text x="249.4" y="557.6">2</text>
<text x="293.8" y="557.6">3</text>
<text x="327.1" y="557.6">4</text>
<text x="347.3" y="557.6">−3</text>
<text x="380.3" y="557.6">−2</text>
<text x="424.3" y="557.6">−1</text>
<text x="470" y="557.6">0</text>
<text x="515.3" y="557.6">1</text>
<text x="559.2" y="557.6">2</text>
<text x="603.1" y="557.6">3</text>
<text x="644.8" y="557.6">4</text>
</g>
<g fill="#000" font-size="19">
<text transform="translate(111.6 581.5) scale(1.12 1)" font-family="Liberation Serif, serif" font-style="italic" font-size="20">ħ</text>
<text x="125.7" y="579.9">(</text>
<text x="132.5" y="579.5" font-family="Liberation Serif, serif" font-size="21.3">ω</text>
<text x="145.4" y="579.3">–</text>
<text x="157.3" y="579.5" font-family="Liberation Serif, serif" font-size="21.3">ω</text>
<text x="171.0" y="585.5" font-size="13.5">0</text>
<text x="180.0" y="579.9">)</text>
<text x="189.5" y="579.9">(me</text>
<text transform="translate(221.5 579.9) scale(1.18 1)">V</text>
<text x="237.4" y="579.9">)</text>
<text transform="translate(429.8 581.5) scale(1.12 1)" font-family="Liberation Serif, serif" font-style="italic" font-size="20">ħ</text>
<text x="443.3" y="579.9">(</text>
<text x="451.1" y="579.5" font-family="Liberation Serif, serif" font-size="21.3">ω</text>
<text x="464.5" y="579.3">–</text>
<text x="476.6" y="579.5" font-family="Liberation Serif, serif" font-size="21.3">ω</text>
<text x="490.9" y="585.5" font-size="13.5">0</text>
<text x="499.0" y="579.9">)</text>
<text x="509.2" y="579.9">(me</text>
<text transform="translate(541.2 579.9) scale(1.18 1)">V</text>
<text x="557.7" y="579.9">)</text>
</g>
<text transform="translate(16.0 324.3) rotate(-90) scale(1.055 1)" font-size="19" fill="#000">Intensity [a.u.]</text>
<text transform="translate(670.9 443.2) rotate(-90) scale(0.955 1)" font-size="20.8" fill="#000">Computed number of counts (a.u.)</text>
<g font-weight="bold" font-size="23" stroke-width="0.7" stroke-linejoin="round">
<text x="101" y="220.3" fill="#ee0a0a" stroke="#ee0a0a">CM</text>
<text x="411" y="219.5" fill="#ee0a0a" stroke="#ee0a0a">CM</text>
<text x="229.5" y="332.6" fill="#1010d8" stroke="#1010d8">X<tspan font-size="16" dy="7.6">A</tspan></text>
<text x="535" y="333.2" fill="#1010d8" stroke="#1010d8">TLS</text><text x="575.8" y="340.4" font-size="16" fill="#1010d8" stroke="#1010d8">A</text>
<text x="145" y="478.3" fill="#12904a" stroke="#12904a">X</text>
<text x="161.5" y="487.2" font-size="15" fill="#12904a" stroke="#12904a">B</text>
<text x="159.6" y="470.2" font-size="15" fill="#12904a" stroke="#12904a">−</text>
<text x="454.6" y="478.3" fill="#12904a" stroke="#12904a">TLS</text><text x="496.2" y="484.6" font-size="15.5" fill="#12904a" stroke="#12904a">B</text>
</g>

<g fill="#fff"><rect x="116.11" y="555.58" width="4.01" height="2.92"/><rect x="122.04" y="555.58" width="3.86" height="2.92"/><rect x="200.76" y="555.58" width="4.01" height="2.92"/><rect x="206.69" y="555.58" width="3.86" height="2.92"/><rect x="425.21" y="555.58" width="4.01" height="2.92"/><rect x="431.14" y="555.58" width="3.86" height="2.92"/><rect x="510.66" y="555.58" width="4.01" height="2.92"/><rect x="516.59" y="555.58" width="3.86" height="2.92"/><rect x="47.49" y="479.93" width="3.66" height="2.77"/><rect x="52.90" y="479.93" width="3.53" height="2.77"/><rect x="48.21" y="516.13" width="3.66" height="2.77"/><rect x="53.61" y="516.13" width="3.53" height="2.77"/><rect x="614.45" y="479.73" width="3.66" height="2.77"/><rect x="619.85" y="479.73" width="3.53" height="2.77"/><rect x="614.45" y="515.93" width="3.66" height="2.77"/><rect x="619.85" y="515.93" width="3.53" height="2.77"/><rect x="133.66" y="54.77" width="3.57" height="2.73"/><rect x="138.93" y="54.77" width="3.44" height="2.73"/></g>
</svg>

</body></html>
